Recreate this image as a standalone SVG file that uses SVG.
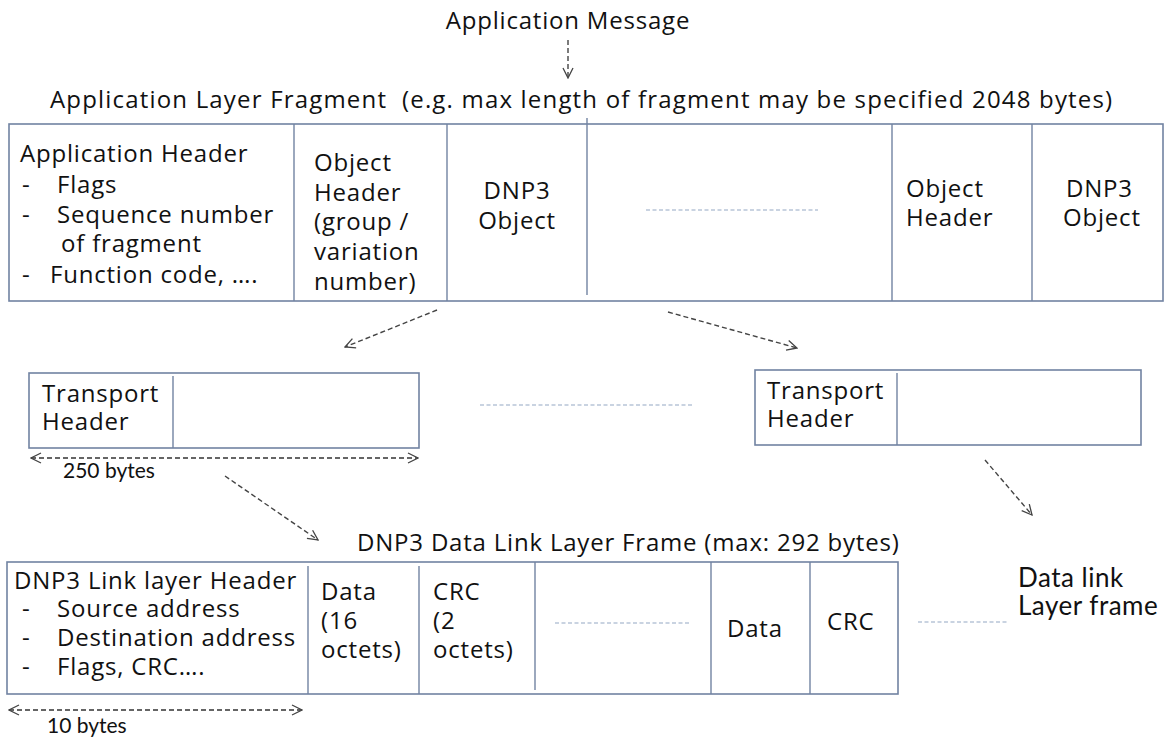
<svg xmlns="http://www.w3.org/2000/svg" width="1167" height="738" viewBox="0 0 1167 738">
  <defs>
    <marker id="open-arrow" viewBox="0 0 12 12" refX="11" refY="6" markerWidth="12" markerHeight="12" markerUnits="userSpaceOnUse" orient="auto-start-reverse">
      <path d="M1,1 L11,6 L1,11" fill="none" stroke="#444" stroke-width="1.3"/>
    </marker>
    <style>
      text { font-family: "Open Sans", "Noto Sans", sans-serif; font-size: 24px; letter-spacing: 0.8px; fill: #111; }
      .small { font-family: Lato, "Liberation Sans", sans-serif; font-size: 21px; letter-spacing: 0; }
      .side { font-family: Lato, "Open Sans", sans-serif; font-size: 26px; letter-spacing: 0.5px; }
      .frame { fill: #fff; stroke: #7183a2; stroke-width: 1.6; }
      .div { stroke: #7183a2; stroke-width: 1.4; }
      .gap { stroke: #94a7c4; stroke-width: 1.2; stroke-dasharray: 4 2.5; }
      .flow { fill: none; stroke: #444; stroke-width: 1.4; stroke-dasharray: 5 3; marker-end: url(#open-arrow); }
      .span { fill: none; stroke: #333; stroke-width: 1.3; stroke-dasharray: 5 3; marker-start: url(#open-arrow); marker-end: url(#open-arrow); }
    </style>
  </defs>
  <rect width="1167" height="738" fill="#fff"/>

  <!-- headings -->
  <g id="app-message">
    <text x="568" y="29" text-anchor="middle">Application Message</text>
  </g>
  <g id="fragment-title">
    <text x="50" y="108" textLength="1063" xml:space="preserve" style="white-space: pre">Application Layer Fragment  (e.g. max length of fragment may be specified 2048 bytes)</text>
  </g>

  <!-- application layer fragment -->
  <g id="app-fragment">
    <rect class="frame" x="9" y="124" width="1154" height="177"/>
    <line class="div" x1="294" y1="124" x2="294" y2="301"/>
    <line class="div" x1="447" y1="124" x2="447" y2="301"/>
    <line class="div" x1="587" y1="118" x2="587" y2="295"/>
    <line class="div" x1="892" y1="124" x2="892" y2="301"/>
    <line class="div" x1="1032" y1="124" x2="1032" y2="301"/>
  </g>
  <g id="app-header">
    <text><tspan x="20" y="162">Application Header</tspan><tspan x="22" y="193">-</tspan><tspan x="57" y="193">Flags</tspan><tspan x="22" y="223">-</tspan><tspan x="57" y="223">Sequence number</tspan><tspan x="61" y="252">of fragment</tspan><tspan x="22" y="283">-</tspan><tspan x="50" y="283">Function code, ….</tspan></text>
  </g>
  <g id="object-header-1">
    <text><tspan x="314" y="171">Object</tspan><tspan x="314" y="201">Header</tspan><tspan x="314" y="230">(group /</tspan><tspan x="314" y="260">variation</tspan><tspan x="314" y="290">number)</tspan></text>
  </g>
  <g id="dnp3-object-1">
    <text text-anchor="middle"><tspan x="517" y="199">DNP3</tspan><tspan x="517" y="229">Object</tspan></text>
  </g>
  <g id="more-objects">
    <line class="gap" x1="646" y1="210" x2="818" y2="210"/>
  </g>
  <g id="object-header-2">
    <text><tspan x="906" y="197">Object</tspan><tspan x="906" y="226">Header</tspan></text>
  </g>
  <g id="dnp3-object-2">
    <text><tspan x="1066" y="197">DNP3</tspan><tspan x="1063" y="226">Object</tspan></text>
  </g>

  <!-- transport segments -->
  <g id="transport-1">
    <rect class="frame" x="29" y="373" width="390" height="75"/>
    <line class="div" x1="173" y1="376" x2="173" y2="448"/>
    <text><tspan x="42" y="402">Transport</tspan><tspan x="42" y="430">Header</tspan></text>
  </g>
  <g id="transport-gap">
    <line class="gap" x1="480" y1="405" x2="692" y2="405"/>
  </g>
  <g id="transport-2">
    <rect class="frame" x="755" y="370" width="386" height="75"/>
    <line class="div" x1="897" y1="373" x2="897" y2="445"/>
    <text><tspan x="767" y="399">Transport</tspan><tspan x="767" y="427">Header</tspan></text>
  </g>
  <g id="transport-size">
    <text class="small" x="63" y="478">250 bytes</text>
  </g>

  <!-- data link layer frame -->
  <g id="link-title">
    <text x="357" y="551">DNP3 Data Link Layer Frame (max: 292 bytes)</text>
  </g>
  <g id="link-frame">
    <rect class="frame" x="7" y="562" width="891" height="132"/>
    <line class="div" x1="308" y1="566" x2="308" y2="694"/>
    <line class="div" x1="419" y1="566" x2="419" y2="694"/>
    <line class="div" x1="535" y1="562" x2="535" y2="690"/>
    <line class="div" x1="711" y1="562" x2="711" y2="694"/>
    <line class="div" x1="810" y1="562" x2="810" y2="694"/>
  </g>
  <g id="link-header">
    <text><tspan x="14" y="589">DNP3 Link layer Header</tspan><tspan x="22" y="617">-</tspan><tspan x="57" y="617">Source address</tspan><tspan x="22" y="646">-</tspan><tspan x="57" y="646">Destination address</tspan><tspan x="22" y="675">-</tspan><tspan x="57" y="675">Flags, CRC….</tspan></text>
  </g>
  <g id="data-1">
    <text><tspan x="321" y="600">Data</tspan><tspan x="321" y="629">(16</tspan><tspan x="321" y="658">octets)</tspan></text>
  </g>
  <g id="crc-1">
    <text><tspan x="433" y="600">CRC</tspan><tspan x="433" y="629">(2</tspan><tspan x="433" y="658">octets)</tspan></text>
  </g>
  <g id="more-blocks">
    <line class="gap" x1="555" y1="623" x2="690" y2="623"/>
  </g>
  <g id="data-n">
    <text x="727" y="637">Data</text>
  </g>
  <g id="crc-n">
    <text x="827" y="630">CRC</text>
  </g>
  <g id="frame-gap">
    <line class="gap" x1="918" y1="622" x2="1007" y2="622"/>
  </g>
  <g id="next-frame">
    <text class="side"><tspan x="1018" y="587">Data link</tspan><tspan x="1018" y="615">Layer frame</tspan></text>
  </g>
  <g id="link-header-size">
    <text class="small" x="47" y="733">10 bytes</text>
  </g>

  <!-- connectors -->
  <g id="connectors">
    <line class="flow" x1="568" y1="40" x2="568" y2="78"/>
    <line class="flow" x1="437" y1="310" x2="345" y2="347"/>
    <line class="flow" x1="668" y1="312" x2="797" y2="348"/>
    <line class="span" x1="31" y1="458" x2="418" y2="458"/>
    <line class="flow" x1="225" y1="476" x2="318" y2="540"/>
    <line class="flow" x1="985" y1="460" x2="1032" y2="515"/>
    <line class="span" x1="9" y1="710" x2="302" y2="710"/>
  </g>
</svg>
